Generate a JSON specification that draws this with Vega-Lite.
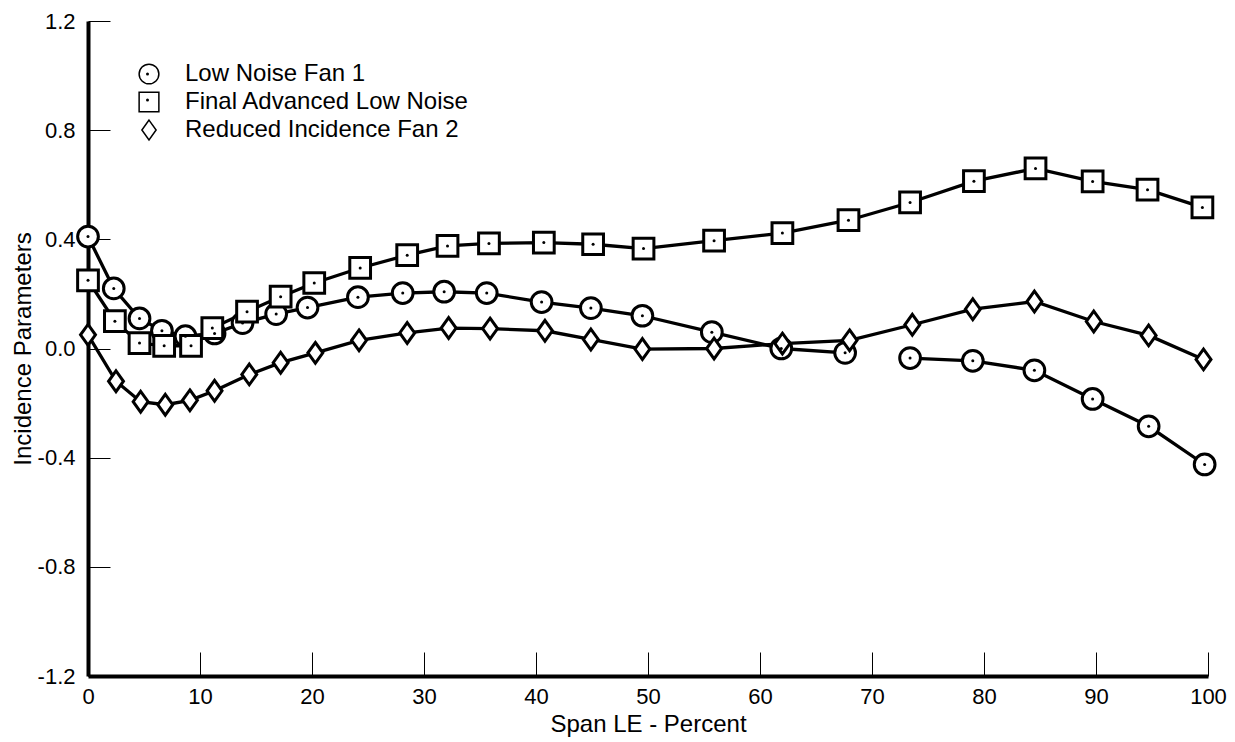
{
  "$schema": "https://vega.github.io/schema/vega-lite/v6.json",
  "autosize": "none",
  "width": 1120,
  "height": 655,
  "padding": {"left": 88, "top": 21, "right": 27, "bottom": 66},
  "background": "white",
  "config": {
    "view": {"stroke": null},
    "font": "Liberation Sans",
    "axis": {"grid": false, "domainColor": "black", "domainWidth": 4, "tickColor": "black", "tickWidth": 1, "labelColor": "black", "titleColor": "black", "labelFontSize": 22, "titleFontSize": 24, "titleFontWeight": "normal", "labelFont": "Liberation Sans", "titleFont": "Liberation Sans"}
  },
  "data": {"values": [
    {"series": "Low Noise Fan 1", "seg": "A", "x": 0, "y": 0.41},
    {"series": "Low Noise Fan 1", "seg": "A", "x": 2.3, "y": 0.22},
    {"series": "Low Noise Fan 1", "seg": "A", "x": 4.6, "y": 0.11},
    {"series": "Low Noise Fan 1", "seg": "A", "x": 6.6, "y": 0.065},
    {"series": "Low Noise Fan 1", "seg": "A", "x": 8.7, "y": 0.045},
    {"series": "Low Noise Fan 1", "seg": "A", "x": 11.3, "y": 0.055},
    {"series": "Low Noise Fan 1", "seg": "A", "x": 13.8, "y": 0.093},
    {"series": "Low Noise Fan 1", "seg": "A", "x": 16.8, "y": 0.126},
    {"series": "Low Noise Fan 1", "seg": "A", "x": 19.6, "y": 0.15},
    {"series": "Low Noise Fan 1", "seg": "A", "x": 24.1, "y": 0.188},
    {"series": "Low Noise Fan 1", "seg": "A", "x": 28.1, "y": 0.203},
    {"series": "Low Noise Fan 1", "seg": "A", "x": 31.8, "y": 0.208},
    {"series": "Low Noise Fan 1", "seg": "A", "x": 35.6, "y": 0.203},
    {"series": "Low Noise Fan 1", "seg": "A", "x": 40.5, "y": 0.17},
    {"series": "Low Noise Fan 1", "seg": "A", "x": 44.9, "y": 0.148},
    {"series": "Low Noise Fan 1", "seg": "A", "x": 49.5, "y": 0.12},
    {"series": "Low Noise Fan 1", "seg": "A", "x": 55.7, "y": 0.06},
    {"series": "Low Noise Fan 1", "seg": "A", "x": 61.9, "y": 0.0},
    {"series": "Low Noise Fan 1", "seg": "A", "x": 67.6, "y": -0.016},
    {"series": "Low Noise Fan 1", "seg": "B", "x": 73.4, "y": -0.035},
    {"series": "Low Noise Fan 1", "seg": "B", "x": 79.0, "y": -0.045},
    {"series": "Low Noise Fan 1", "seg": "B", "x": 84.5, "y": -0.08},
    {"series": "Low Noise Fan 1", "seg": "B", "x": 89.7, "y": -0.185},
    {"series": "Low Noise Fan 1", "seg": "B", "x": 94.7, "y": -0.285},
    {"series": "Low Noise Fan 1", "seg": "B", "x": 99.7, "y": -0.425},
    {"series": "Final Advanced Low Noise", "seg": "C", "x": 0, "y": 0.25},
    {"series": "Final Advanced Low Noise", "seg": "C", "x": 2.4, "y": 0.10},
    {"series": "Final Advanced Low Noise", "seg": "C", "x": 4.6, "y": 0.02},
    {"series": "Final Advanced Low Noise", "seg": "C", "x": 6.8, "y": 0.01},
    {"series": "Final Advanced Low Noise", "seg": "C", "x": 9.2, "y": 0.01},
    {"series": "Final Advanced Low Noise", "seg": "C", "x": 11.1, "y": 0.075},
    {"series": "Final Advanced Low Noise", "seg": "C", "x": 14.2, "y": 0.135},
    {"series": "Final Advanced Low Noise", "seg": "C", "x": 17.2, "y": 0.19},
    {"series": "Final Advanced Low Noise", "seg": "C", "x": 20.2, "y": 0.24},
    {"series": "Final Advanced Low Noise", "seg": "C", "x": 24.3, "y": 0.295},
    {"series": "Final Advanced Low Noise", "seg": "C", "x": 28.5, "y": 0.342},
    {"series": "Final Advanced Low Noise", "seg": "C", "x": 32.1, "y": 0.376},
    {"series": "Final Advanced Low Noise", "seg": "C", "x": 35.8, "y": 0.385},
    {"series": "Final Advanced Low Noise", "seg": "C", "x": 40.7, "y": 0.388},
    {"series": "Final Advanced Low Noise", "seg": "C", "x": 45.1, "y": 0.382},
    {"series": "Final Advanced Low Noise", "seg": "C", "x": 49.6, "y": 0.366},
    {"series": "Final Advanced Low Noise", "seg": "C", "x": 55.9, "y": 0.395},
    {"series": "Final Advanced Low Noise", "seg": "C", "x": 62.0, "y": 0.423},
    {"series": "Final Advanced Low Noise", "seg": "C", "x": 67.9, "y": 0.47},
    {"series": "Final Advanced Low Noise", "seg": "C", "x": 73.4, "y": 0.535},
    {"series": "Final Advanced Low Noise", "seg": "C", "x": 79.1, "y": 0.613},
    {"series": "Final Advanced Low Noise", "seg": "C", "x": 84.6, "y": 0.66},
    {"series": "Final Advanced Low Noise", "seg": "C", "x": 89.7, "y": 0.612},
    {"series": "Final Advanced Low Noise", "seg": "C", "x": 94.6, "y": 0.582},
    {"series": "Final Advanced Low Noise", "seg": "C", "x": 99.5, "y": 0.517},
    {"series": "Reduced Incidence Fan 2", "seg": "D", "x": 0, "y": 0.05},
    {"series": "Reduced Incidence Fan 2", "seg": "D", "x": 2.5, "y": -0.12},
    {"series": "Reduced Incidence Fan 2", "seg": "D", "x": 4.7, "y": -0.195},
    {"series": "Reduced Incidence Fan 2", "seg": "D", "x": 6.9, "y": -0.206},
    {"series": "Reduced Incidence Fan 2", "seg": "D", "x": 9.1, "y": -0.19},
    {"series": "Reduced Incidence Fan 2", "seg": "D", "x": 11.3, "y": -0.155},
    {"series": "Reduced Incidence Fan 2", "seg": "D", "x": 14.4, "y": -0.095},
    {"series": "Reduced Incidence Fan 2", "seg": "D", "x": 17.2, "y": -0.052},
    {"series": "Reduced Incidence Fan 2", "seg": "D", "x": 20.3, "y": -0.016},
    {"series": "Reduced Incidence Fan 2", "seg": "D", "x": 24.2, "y": 0.03},
    {"series": "Reduced Incidence Fan 2", "seg": "D", "x": 28.5, "y": 0.057},
    {"series": "Reduced Incidence Fan 2", "seg": "D", "x": 32.2, "y": 0.075},
    {"series": "Reduced Incidence Fan 2", "seg": "D", "x": 35.9, "y": 0.073},
    {"series": "Reduced Incidence Fan 2", "seg": "D", "x": 40.8, "y": 0.065},
    {"series": "Reduced Incidence Fan 2", "seg": "D", "x": 44.9, "y": 0.033},
    {"series": "Reduced Incidence Fan 2", "seg": "D", "x": 49.5, "y": -0.002},
    {"series": "Reduced Incidence Fan 2", "seg": "D", "x": 55.9, "y": 0.0},
    {"series": "Reduced Incidence Fan 2", "seg": "D", "x": 62.0, "y": 0.018},
    {"series": "Reduced Incidence Fan 2", "seg": "D", "x": 68.0, "y": 0.03},
    {"series": "Reduced Incidence Fan 2", "seg": "D", "x": 73.6, "y": 0.087},
    {"series": "Reduced Incidence Fan 2", "seg": "D", "x": 79.0, "y": 0.144},
    {"series": "Reduced Incidence Fan 2", "seg": "D", "x": 84.5, "y": 0.172},
    {"series": "Reduced Incidence Fan 2", "seg": "D", "x": 89.8, "y": 0.099},
    {"series": "Reduced Incidence Fan 2", "seg": "D", "x": 94.7, "y": 0.048},
    {"series": "Reduced Incidence Fan 2", "seg": "D", "x": 99.6, "y": -0.04}
  ]},
  "encoding": {
    "x": {"field": "x", "type": "quantitative", "scale": {"domain": [0, 100], "nice": false, "zero": false},
      "axis": {"values": [0, 10, 20, 30, 40, 50, 60, 70, 80, 90, 100], "tickSize": -24, "labelPadding": 34, "title": "Span LE - Percent", "titlePadding": 5, "labelFlush": false}},
    "y": {"field": "y", "type": "quantitative", "scale": {"domain": [-1.2, 1.2], "nice": false, "zero": false},
      "axis": {"values": [-1.2, -0.8, -0.4, 0, 0.4, 0.8, 1.2], "labelExpr": "datum.value < 0 ? '-' + format(-datum.value, '.1f') : format(datum.value, '.1f')", "tickSize": -22, "labelPadding": 35, "title": "Incidence Parameters", "titlePadding": 2, "labelFlush": false}}
  },
  "resolve": {"scale": {"shape": "independent"}, "legend": {"shape": "independent"}},
  "layer": [
    {
      "mark": {"type": "line", "color": "black", "strokeWidth": 3.3},
      "encoding": {"detail": {"field": "seg"}, "order": {"field": "x", "type": "quantitative"}}
    },
    {
      "mark": {"type": "point", "filled": true, "fill": "white", "stroke": "black", "strokeWidth": 3, "size": 430, "opacity": 1},
      "encoding": {
        "shape": {"field": "series", "type": "nominal",
          "scale": {"domain": ["Low Noise Fan 1", "Final Advanced Low Noise", "Reduced Incidence Fan 2"], "range": ["circle", "square", "M0,-1L0.72,0L0,1L-0.72,0Z"]},
          "legend": {"title": null, "orient": "none", "legendX": 49, "legendY": 41, "padding": 0, "labelFontSize": 24, "labelFont": "Liberation Sans", "labelColor": "black", "labelLimit": 0, "labelOffset": 24, "rowPadding": 2, "symbolSize": 390,
            "encode": {"symbols": {"update": {"fill": {"value": "white"}, "stroke": {"value": "black"}, "strokeWidth": {"value": 2.8}, "opacity": {"value": 1}}}}}}
      }
    },
    {
      "transform": [{"filter": "datum.series != 'Reduced Incidence Fan 2'"}],
      "mark": {"type": "point", "filled": true, "color": "black", "size": 9, "opacity": 1},
      "encoding": {
        "shape": {"field": "series", "type": "nominal",
          "scale": {"domain": ["Low Noise Fan 1", "Final Advanced Low Noise", "Reduced Incidence Fan 2"], "range": ["circle", "circle", "M0,0Z"]},
          "legend": {"title": null, "orient": "none", "legendX": 47.5, "legendY": 41, "padding": 0, "labelFontSize": 24, "labelFont": "Liberation Sans", "labelColor": "transparent", "labelExpr": "' '", "labelLimit": 0, "labelOffset": 24, "rowPadding": 2, "symbolSize": 9,
            "encode": {"symbols": {"update": {"fill": {"value": "black"}, "stroke": {"value": "transparent"}, "strokeWidth": {"value": 0}, "opacity": {"value": 1}}}}}}
      }
    }
  ]
}
